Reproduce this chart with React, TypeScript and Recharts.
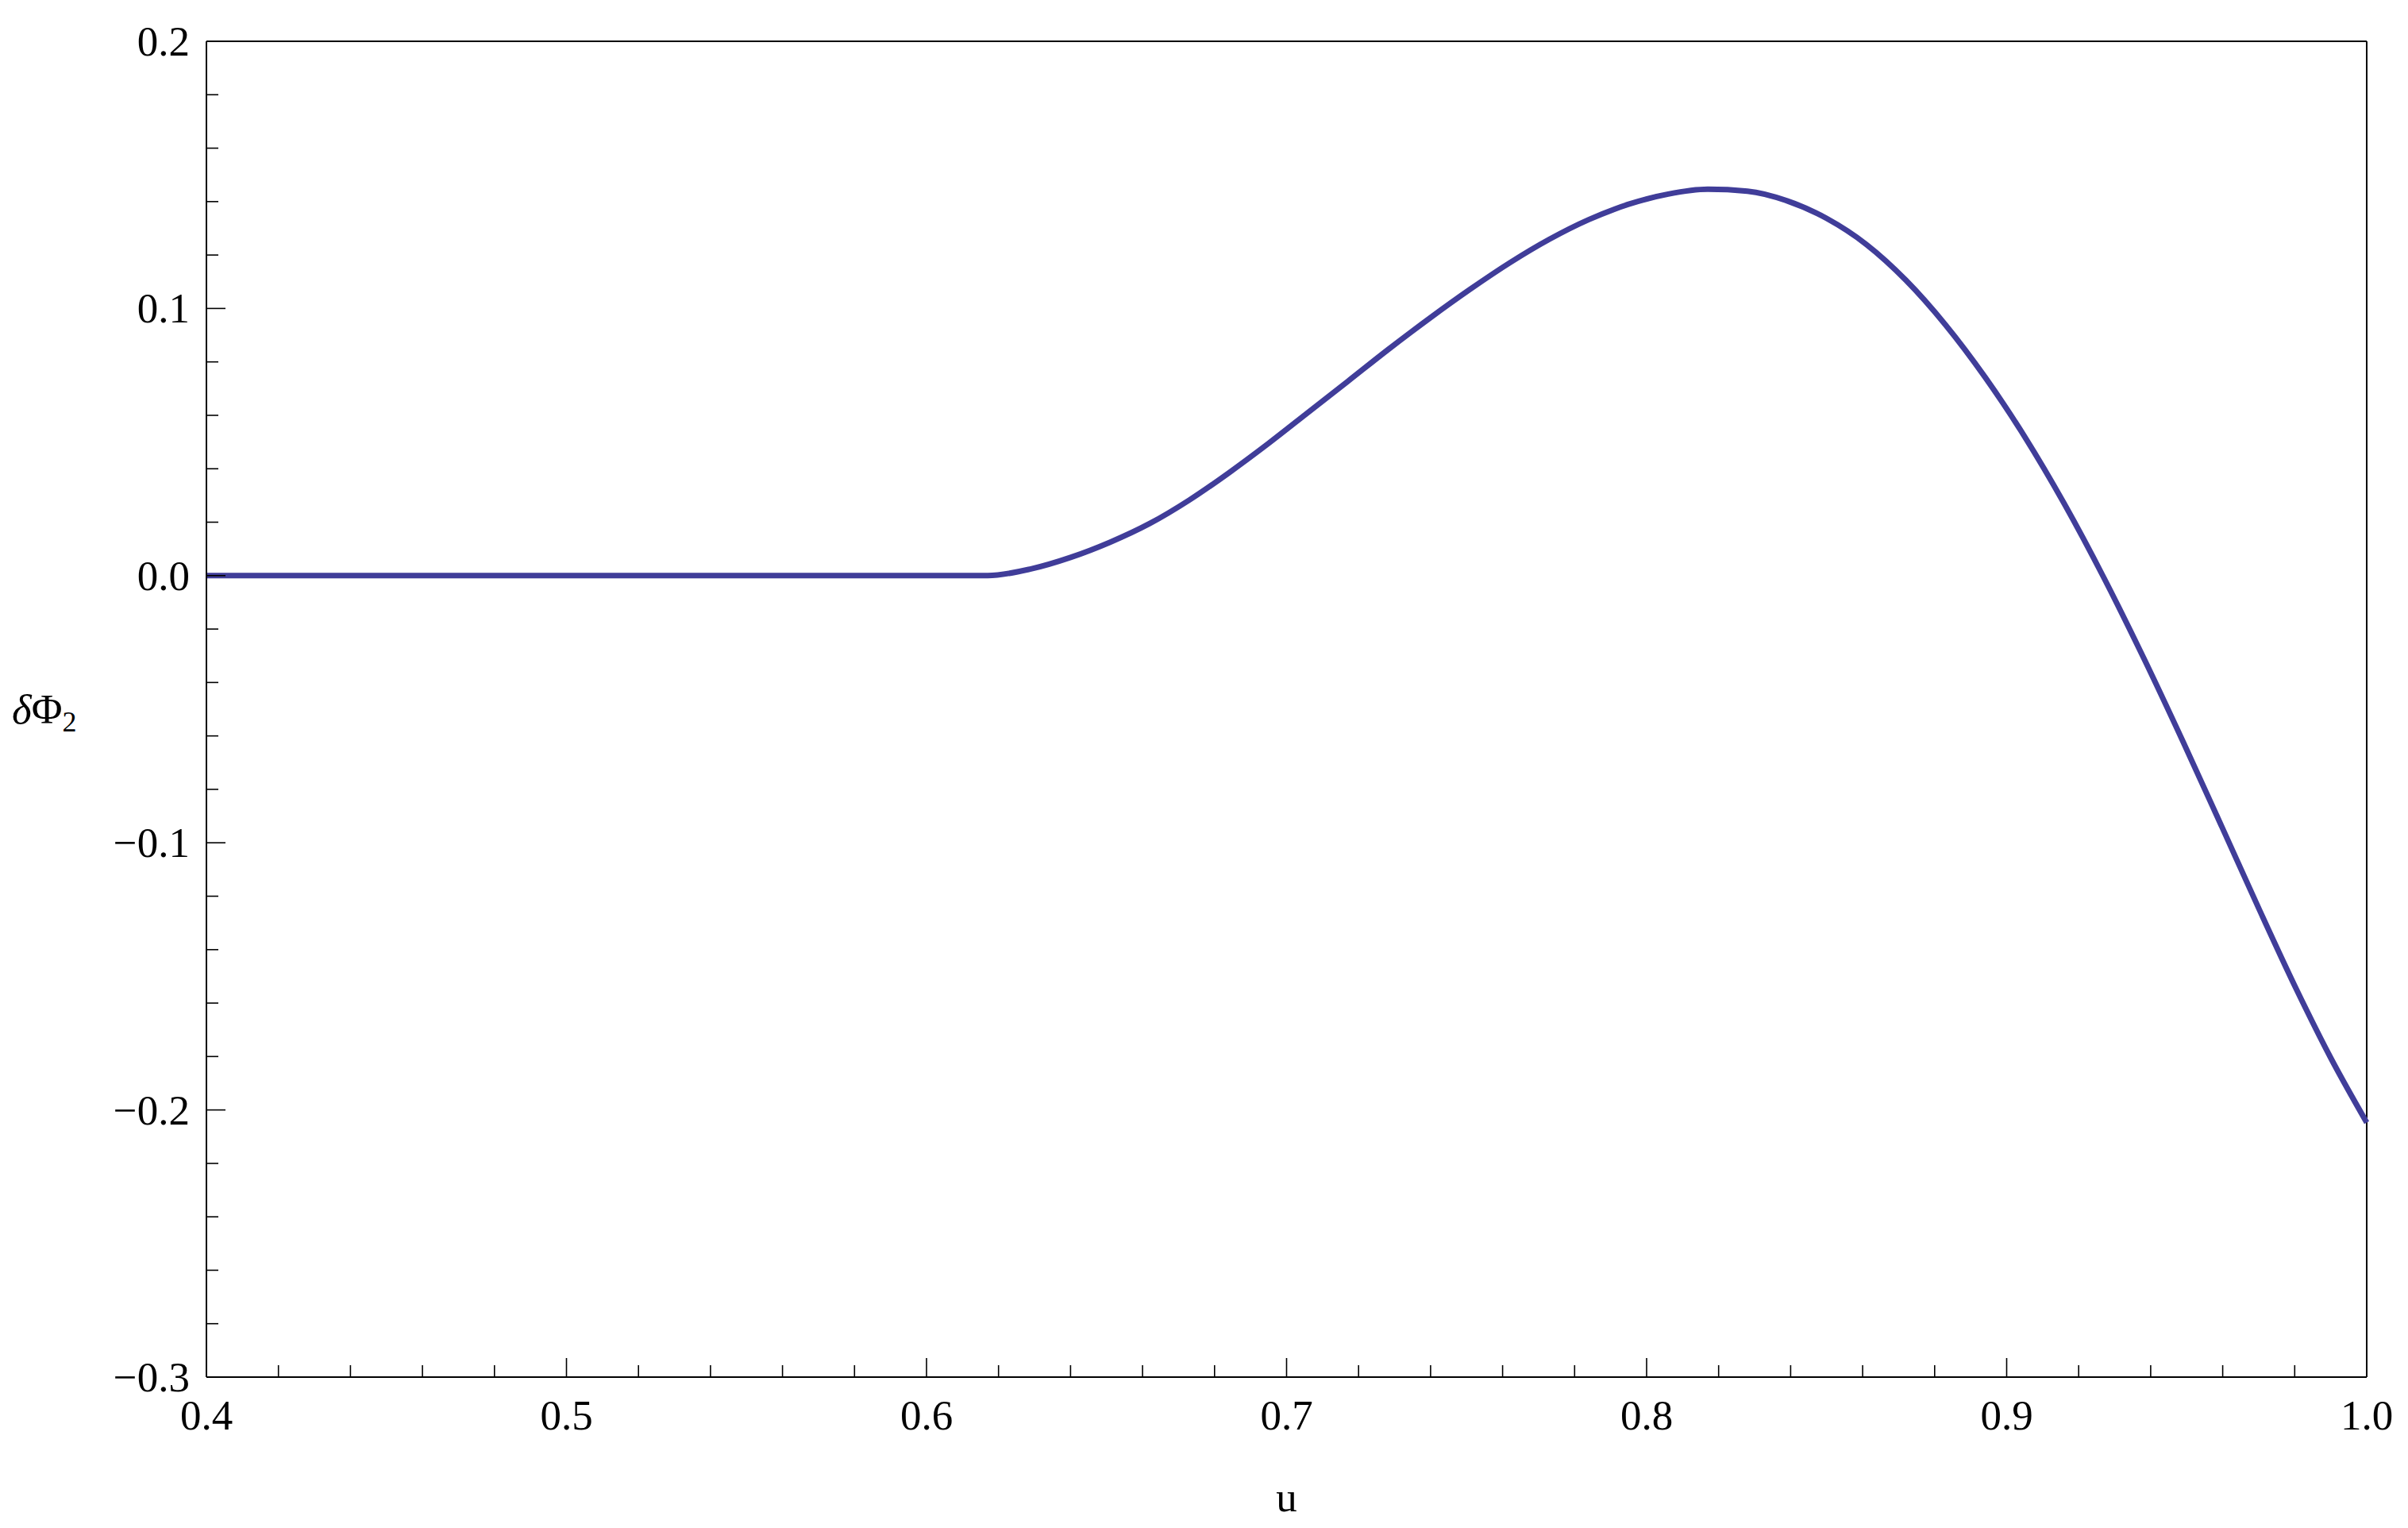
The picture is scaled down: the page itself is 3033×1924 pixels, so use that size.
import React from "react";
import {
  LineChart,
  Line,
  XAxis,
  YAxis,
  ReferenceLine,
} from "recharts";

// δΦ2 against u
const uValues = [
  0.4, 0.5, 0.6, 0.617, 0.629, 0.64, 0.651, 0.662, 0.673, 0.684, 0.695,
  0.706, 0.717, 0.728, 0.74, 0.751, 0.762, 0.773, 0.784, 0.795, 0.806,
  0.817, 0.828, 0.839, 0.85, 0.861, 0.872, 0.883, 0.894, 0.905, 0.916,
  0.927, 0.938, 0.949, 0.96, 0.97, 0.98, 0.99, 1.0,
];
const deltaPhi2 = [
  0, 0, 0, 0, 0.0025, 0.0068, 0.0125, 0.0195, 0.0283, 0.0385, 0.0495,
  0.0611, 0.0727, 0.0844, 0.0966, 0.1072, 0.1171, 0.1259, 0.1333, 0.139, 0.1428,
  0.1446, 0.1439, 0.1403, 0.1337, 0.124, 0.1106, 0.0939, 0.0743, 0.052, 0.0269,
  -0.0008, -0.0307, -0.0622, -0.0947, -0.1245, -0.1535, -0.1805, -0.2047,
];

const xTicks = [
  0.4, 0.42, 0.44, 0.46, 0.48, 0.5, 0.52, 0.54, 0.56, 0.58, 0.6, 0.62, 0.64,
  0.66, 0.68, 0.7, 0.72, 0.74, 0.76, 0.78, 0.8, 0.82, 0.84, 0.86, 0.88, 0.9,
  0.92, 0.94, 0.96, 0.98, 1.0,
];
const yTicks = [
  -0.3, -0.28, -0.26, -0.24, -0.22, -0.2, -0.18, -0.16, -0.14, -0.12, -0.1,
  -0.08, -0.06, -0.04, -0.02, 0, 0.02, 0.04, 0.06, 0.08, 0.1, 0.12, 0.14,
  0.16, 0.18, 0.2,
];
const xMajorLabels = ["0.4", "0.5", "0.6", "0.7", "0.8", "0.9", "1.0"];
const yMajorLabels = ["\u22120.3", "\u22120.2", "\u22120.1", "0.0", "0.1", "0.2"];

const data = uValues.map((u, i) => ({ u, v: deltaPhi2[i] }));

const FONT = "'Liberation Serif', 'Times New Roman', serif";
const LINE_COLOR = "#403d99";

const isMajor = (v: number) => Math.abs(v * 10 - Math.round(v * 10)) < 1e-6;

const labelFor = (v: number, labels: string[]) => {
  const key = (Math.round(v * 10) / 10).toFixed(1).replace("-", "\u2212");
  return labels.find((l) => l === key);
};

function XTick({ x, y, payload }: any) {
  const major = isMajor(payload.value);
  const label = major ? labelFor(payload.value, xMajorLabels) : undefined;
  return (
    <g>
      <line x1={x} x2={x} y1={y} y2={y - (major ? 24 : 15)} stroke="#000" strokeWidth={1.6} />
      {label && (
        <text x={x} y={y + 66} textAnchor="middle" fontFamily={FONT} fontSize={53} fill="#000">
          {label}
        </text>
      )}
    </g>
  );
}

function YTick({ x, y, payload }: any) {
  const major = isMajor(payload.value);
  const label = major ? labelFor(payload.value, yMajorLabels) : undefined;
  return (
    <g>
      <line x1={x} x2={x + (major ? 24 : 15)} y1={y} y2={y} stroke="#000" strokeWidth={1.6} />
      {label && (
        <text x={x - 21} y={y + 18} textAnchor="end" fontFamily={FONT} fontSize={53} fill="#000">
          {label}
        </text>
      )}
    </g>
  );
}

function YLabel({ viewBox }: any) {
  const { x, y, height } = viewBox;
  return (
    <text x={x - 45} y={y + height / 2 + 18} fontFamily={FONT} fontSize={53} fill="#000">
      <tspan fontStyle="italic">δ</tspan>
      <tspan>Φ</tspan>
      <tspan fontSize={36} dy={10}>2</tspan>
    </text>
  );
}

function XLabel({ viewBox }: any) {
  const { x, y, width } = viewBox;
  return (
    <text x={x + width / 2} y={y + 169} textAnchor="middle" fontFamily={FONT} fontSize={53} fill="#000">
      u
    </text>
  );
}

export default function App() {
  return (
    <div style={{ width: 3033, height: 1924, background: "#fff" }}>
      <style>{"body{margin:0}"}</style>
      <LineChart
        width={3033}
        height={1924}
        data={data}
        margin={{ top: 52, right: 52, bottom: 90, left: 60 }}
      >
        <XAxis
          type="number"
          dataKey="u"
          domain={[0.4, 1.0]}
          ticks={xTicks}
          interval={0}
          height={100}
          tickSize={0}
          tickMargin={0}
          tickLine={false}
          tick={<XTick />}
          axisLine={{ stroke: "#000", strokeWidth: 2 }}
          label={{ content: <XLabel /> }}
        />
        <YAxis
          type="number"
          domain={[-0.3, 0.2]}
          ticks={yTicks}
          interval={0}
          width={200}
          tickSize={0}
          tickMargin={0}
          tickLine={false}
          tick={<YTick />}
          axisLine={{ stroke: "#000", strokeWidth: 2 }}
          allowDataOverflow
          label={{ content: <YLabel /> }}
        />
        <ReferenceLine y={0.2} stroke="#000" strokeWidth={2} />
        <ReferenceLine x={1.0} stroke="#000" strokeWidth={2} />
        <Line
          type="monotone"
          dataKey="v"
          stroke={LINE_COLOR}
          strokeWidth={7}
          dot={false}
          activeDot={false}
          isAnimationActive={false}
        />
      </LineChart>
    </div>
  );
}
